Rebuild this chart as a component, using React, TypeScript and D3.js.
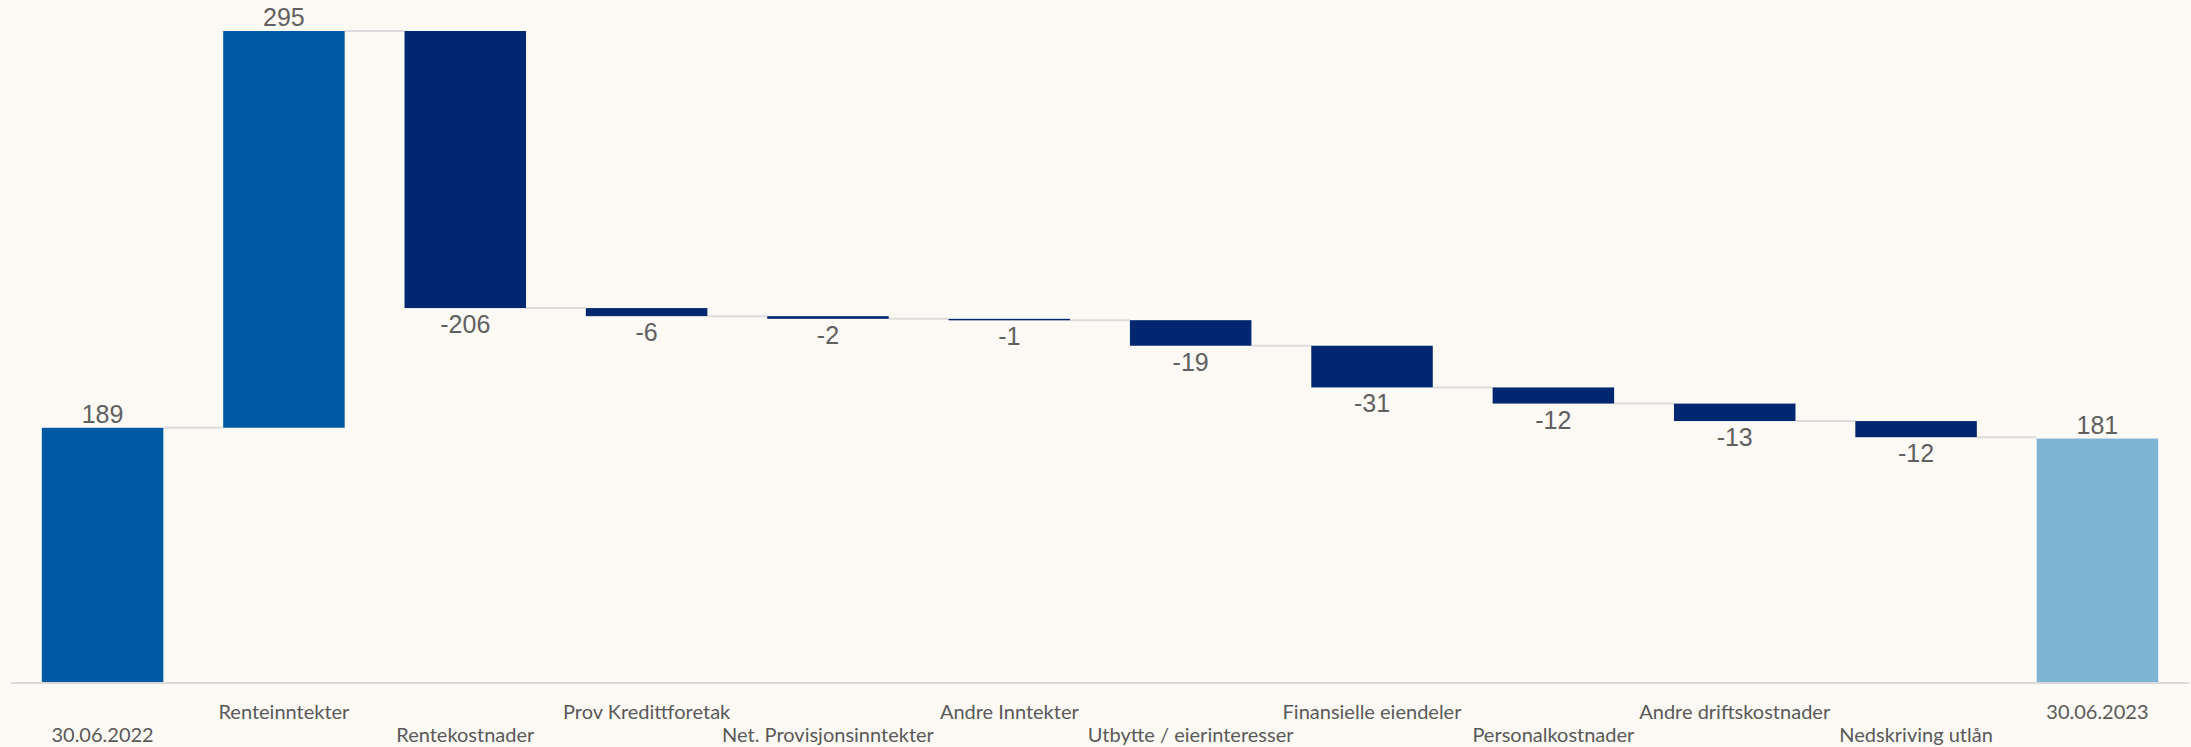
import React, { useEffect, useRef } from 'react';
import * as d3 from 'd3';

// categories in order, deltas per step, and which ones are totals
const categories = [
  '30.06.2022',
  'Renteinntekter',
  'Rentekostnader',
  'Prov Kredittforetak',
  'Net. Provisjonsinntekter',
  'Andre Inntekter',
  'Utbytte / eierinteresser',
  'Finansielle eiendeler',
  'Personalkostnader',
  'Andre driftskostnader',
  'Nedskriving utlån',
  '30.06.2023',
];
const values = [189, 295, -206, -6, -2, -1, -19, -31, -12, -13, -12, 181];
const isTotal = [true, false, false, false, false, false, false, false, false, false, false, true];

const W = 2191;
const H = 747;

export default function App() {
  const ref = useRef<SVGSVGElement>(null);

  useEffect(() => {
    document.body.style.margin = '0';
    const svg = d3.select(ref.current);
    svg.selectAll('*').remove();

    svg.append('rect').attr('width', W).attr('height', H).attr('fill', '#FDF9F5');

    // build running totals
    let run = 0;
    const steps = categories.map((c, i) => {
      let start: number, end: number;
      if (isTotal[i]) {
        start = 0;
        end = values[i];
        run = values[i];
      } else {
        start = run;
        end = run + values[i];
        run = end;
      }
      return { c, i, v: values[i], start, end, total: isTotal[i] };
    });

    const x = d3.scaleBand().domain(categories).range([11, 2189]).paddingInner(0.33).paddingOuter(0.17);
    const y = d3.scaleLinear().domain([0, 484]).range([682, 31]);

    const color = (d: any) => {
      if (d.i === categories.length - 1) return '#7FB3D3';
      if (d.total || d.v > 0) return '#005AA3';
      return '#00276F';
    };

    // connectors
    steps.slice(0, -1).forEach((d, i) => {
      const next = steps[i + 1];
      const level = d.end;
      svg
        .append('line')
        .attr('x1', x(d.c)! + x.bandwidth())
        .attr('x2', x(next.c)!)
        .attr('y1', y(level))
        .attr('y2', y(level))
        .attr('stroke', '#DCDCDC')
        .attr('stroke-width', 2);
    });

    // axis line
    svg
      .append('line')
      .attr('x1', 11)
      .attr('x2', 2189)
      .attr('y1', y(0) + 1)
      .attr('y2', y(0) + 1)
      .attr('stroke', '#D9D9D9')
      .attr('stroke-width', 2);

    svg
      .selectAll('.bar')
      .data(steps)
      .enter()
      .append('rect')
      .attr('class', 'bar')
      .attr('x', (d) => x(d.c)!)
      .attr('width', x.bandwidth())
      .attr('y', (d) => y(Math.max(d.start, d.end)))
      .attr('height', (d) => Math.max(1.5, Math.abs(y(d.start) - y(d.end))))
      .attr('fill', color);

    // value labels
    svg
      .selectAll('.val')
      .data(steps)
      .enter()
      .append('text')
      .attr('class', 'val')
      .attr('x', (d) => x(d.c)! + x.bandwidth() / 2)
      .attr('y', (d) => (d.v >= 0 ? y(Math.max(d.start, d.end)) - 5 : y(Math.min(d.start, d.end)) + 25))
      .attr('text-anchor', 'middle')
      .style('font-family', '"Liberation Sans", Arial, sans-serif')
      .style('font-size', '25px')
      .style('fill', '#606060')
      .text((d) => String(d.v));

    // category labels, staggered on two rows
    svg
      .selectAll('.cat')
      .data(steps)
      .enter()
      .append('text')
      .attr('class', 'cat')
      .attr('x', (d) => x(d.c)! + x.bandwidth() / 2)
      .attr('y', (d) => (d.i % 2 === 1 ? 719 : 742))
      .attr('text-anchor', 'middle')
      .style('font-family', 'Lato, sans-serif')
      .style('font-size', '20px')
      .style('fill', '#595959')
      .text((d) => d.c);
  }, []);

  return <svg ref={ref} width={W} height={H} style={{ display: 'block' }}></svg>;
}
